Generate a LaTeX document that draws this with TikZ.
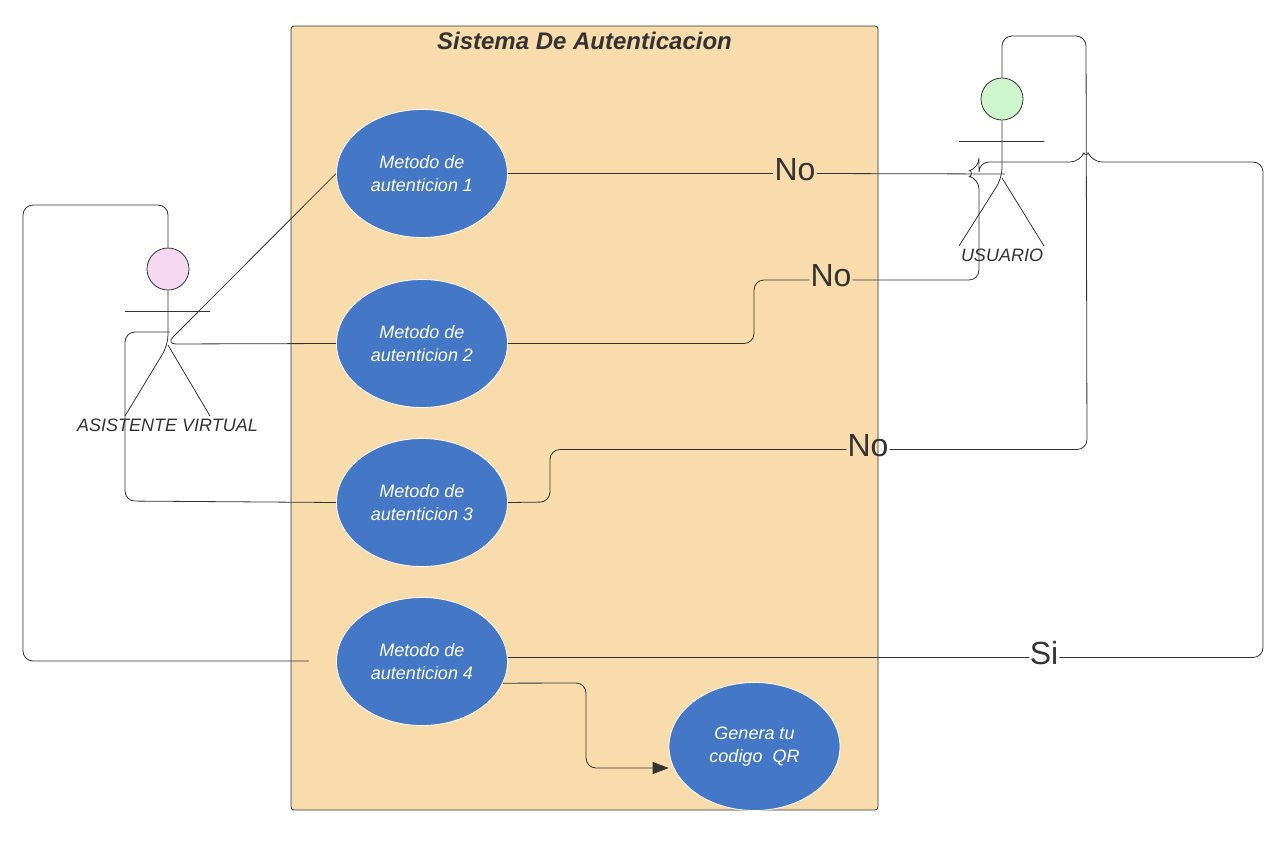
\documentclass[tikz,border=0pt]{standalone}
\usepackage{fontspec}
\setmainfont{Liberation Sans}
\usetikzlibrary{shapes.geometric,arrows.meta}
\definecolor{boxfill}{RGB}{248,220,172}
\definecolor{usecase}{RGB}{68,120,199}
\definecolor{line_dark}{RGB}{51,51,51}
\definecolor{asistente}{RGB}{247,216,242}
\definecolor{usuario}{RGB}{206,245,204}
\tikzset{
    usecasenode/.style = {ellipse, fill=usecase, draw=white, line width=0.8pt, minimum width=171pt, minimum height=128pt, inner sep=0pt, align=center, text=white, font=\fontsize{18}{23}\selectfont\itshape},
    actorhead/.style = {circle, draw=line_dark, line width=0.8pt, minimum size=42pt, inner sep=0pt},
    actorname/.style = {text=line_dark, inner sep=0pt, font=\fontsize{18}{22}\selectfont\itshape},
    answer/.style = {text=line_dark, inner sep=1pt, font=\fontsize{32}{36}\selectfont},
    link/.style = {draw=line_dark, line width=0.8pt, rounded corners=10pt}
}

\begin{document}
\begin{tikzpicture}[x=1pt, y=-1pt]
    \useasboundingbox (0,0) rectangle (1278,852);

    % system box
    \node[draw=line_dark, fill=boxfill, line width=0.8pt, rounded corners=3pt, minimum width=587pt, minimum height=784pt, inner sep=0pt] (sistema) at (584.5,418) {};
    \node[text=line_dark, inner sep=0pt, font=\fontsize{24}{28}\selectfont\bfseries\itshape] (titulo) at (584.5,41) {Sistema De Autenticacion};

    % use cases
    \node[usecasenode] (m1) at (422,173.5) {Metodo de\\autenticion 1};
    \node[usecasenode] (m2) at (422,343.5) {Metodo de\\autenticion 2};
    \node[usecasenode] (m3) at (422,502.5) {Metodo de\\autenticion 3};
    \node[usecasenode] (m4) at (422,661.5) {Metodo de\\autenticion 4};
    \node[usecasenode] (qr) at (754.5,746.5) {Genera tu\\codigo~~QR};

    % left actor
    \node[actorhead, fill=asistente] (headA) at (168,269) {};
    \coordinate (hipA) at (168,345);
    \coordinate (handA) at (166,344);
    \coordinate (armAl) at (125,311);
    \coordinate (armAr) at (210,311);
    \coordinate (legAl) at (125,416);
    \coordinate (legAr) at (210,416);
    \coordinate (shoulderA) at (170,332);
    \coordinate (openA) at (309,661);
    \node[actorname] (nameA) at (167.5,425) {ASISTENTE VIRTUAL};

    % right actor
    \node[actorhead, fill=usuario] (headU) at (1002,99) {};
    \coordinate (hipU) at (1002,178);
    \coordinate (armUl) at (959,141);
    \coordinate (armUr) at (1044,141);
    \coordinate (legUl) at (959,246);
    \coordinate (legUr) at (1044,246);
    \coordinate (handU) at (1005,174);
    \coordinate (shoulderU) at (1005,162);
    \node[actorname] (nameU) at (1002,255) {USUARIO};

    \draw[link] (headA) -- (hipA) -- (legAl);
    \draw[link] (hipA) -- (legAr);
    \draw[link] (armAl) -- (armAr);
    \draw[link] (headU) -- (hipU) -- (legUl);
    \draw[link] (hipU) -- (legUr);
    \draw[link] (armUl) -- (armUr);

    % answers
    \node[answer] (no1) at (795,170) {No};
    \node[answer] (no2) at (831,276) {No};
    \node[answer] (no3) at (868,446) {No};
    \node[answer] (si) at (1044,653) {Si};

    % links to the left actor
    \draw[link] (m1.west) -- (handA) -- (m2.west);
    \draw[link] (m3.west) -- (125,501) -- (125,332) -- (shoulderA);
    \draw[link] (openA) -- (23,661) -- (23,205) -- (168,205) -- (headA);

    % links to the right actor
    \draw[link] (m1.east) -- (m1.east -| no1.west);
    \draw[link] (m1.east -| no1.east) -- (handU);
    \draw[link] (m2.east) -- (754,343.5) -- (754,280) -- (no2.west |- 0,280);
    \draw[link] (no2.east |- 0,280) -- (979,280) -- (979,179) .. controls (972,177) and (972,170) .. (979,168) -- (979,162) -- (shoulderU);
    \draw[link] (m3.east) -- (550,502) -- (550,449.5) -- (no3.west |- 0,449.5);
    \draw[link] (no3.east |- 0,449.5) -- (1087,449.5) -- (1086,36) -- (1002,36) -- (headU);
    \draw[link] ([yshift=4pt]m4.east) -- ([yshift=4pt]m4.east -| si.west);
    \draw[link] ([yshift=4pt]m4.east -| si.east) -- (1263,657.5) -- (1263,162) -- (1092,162) .. controls (1089,155) and (1083,155) .. (1080,162) -- (shoulderU);
    \draw[link, -{Triangle[length=16pt,width=12pt]}] (m4.-15.4) -- (586,683) -- (586,768) -- (qr.west |- 0,768);
\end{tikzpicture}
\end{document}
